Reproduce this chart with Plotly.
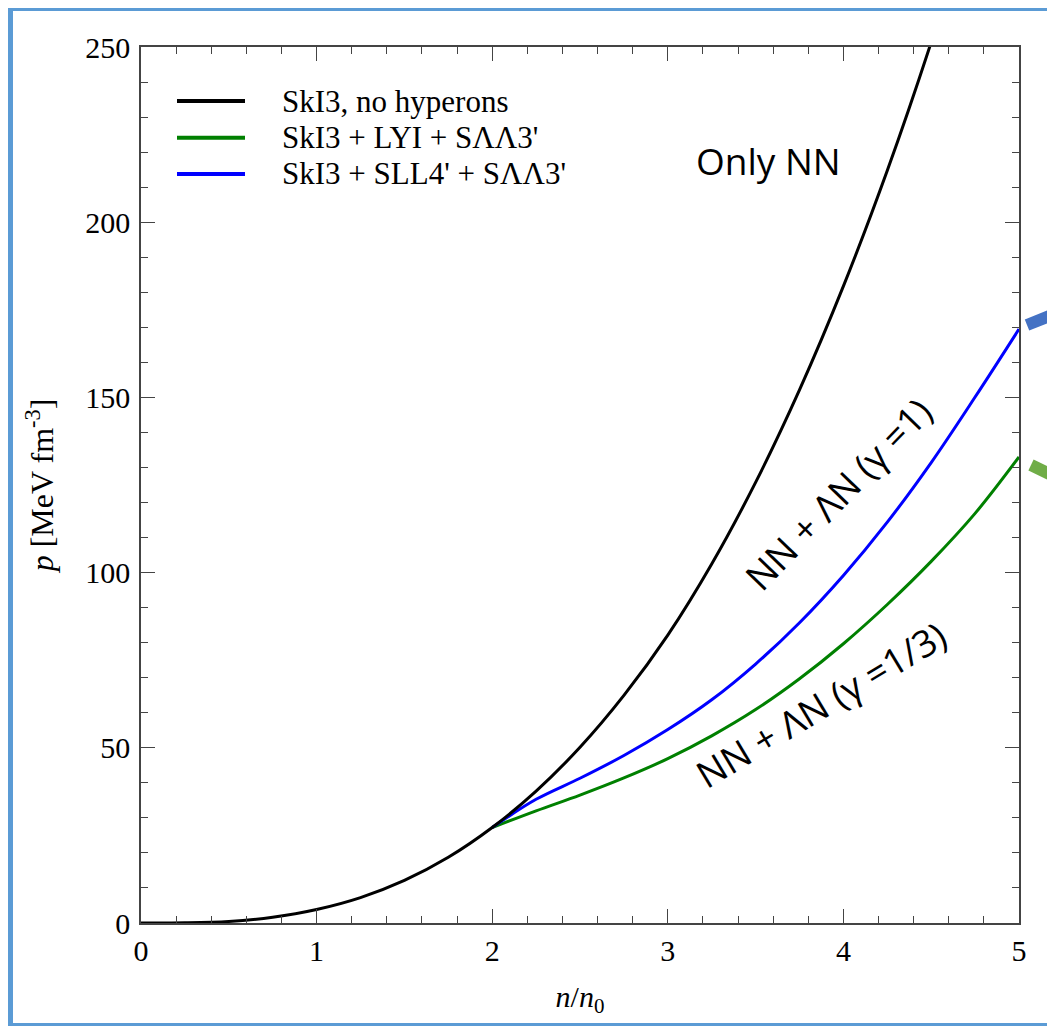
import plotly.graph_objects as go

# ---------------- data ----------------
n_nn = [0, 0.25, 0.5, 0.75, 1, 1.25, 1.5, 1.75, 2, 2.25, 2.5, 2.75, 3, 3.25, 3.5, 3.75, 4, 4.25, 4.5, 4.75]
p_nn = [0, 0.05, 0.45, 1.65, 3.85, 7.25, 12.15, 18.75, 27.25, 37.65, 50.15, 64.95, 82.15, 102.45, 125.75,
        152.15, 181.75, 214.75, 251.35, 291.75]

n_lyi = [2, 2.25, 2.5, 2.75, 3, 3.25, 3.5, 3.75, 4, 4.25, 4.5, 4.75, 5]
p_lyi = [27.25, 32.0, 36.5, 41.4, 46.9, 53.4, 60.9, 69.7, 79.7, 90.9, 103.2, 116.9, 133.0]

n_sll4 = [2, 2.25, 2.5, 2.75, 3, 3.25, 3.5, 3.75, 4, 4.25, 4.5, 4.75, 5]
p_sll4 = [27.25, 35.3, 41.3, 47.8, 55.2, 63.7, 73.9, 85.7, 99.2, 114.4, 131.4, 150.1, 169.5]

series_names = ["SkI3, no hyperons", "SkI3 + LYI + SΛΛ3'", "SkI3 + SLL4' + SΛΛ3'"]
series_colors = ["#000000", "#008000", "#0000ff"]

x_ticks = [0, 1, 2, 3, 4, 5]
y_ticks = [0, 50, 100, 150, 200, 250]

# ---------------- layout geometry ----------------
# the page body has an 8px margin, so the figure starts at (8, 8) in the window
OFF = 8
W, H = 1055 - OFF, 1026 - OFF
L, R, T, B = 133, 36, 39, 103
PW, PH = W - L - R, H - T - B


def px(xp):
    """window pixel x -> paper coordinate"""
    return (xp - OFF - L) / PW


def py(yp):
    """window pixel y -> paper coordinate"""
    return (H - B - (yp - OFF)) / PH


SERIF = "Liberation Serif"
SANS = "Open Sans"

fig = go.Figure()
fig.add_trace(go.Scatter(x=n_lyi, y=p_lyi, mode="lines", line=dict(color=series_colors[1], width=3, shape="spline"),
                         name=series_names[1], showlegend=False))
fig.add_trace(go.Scatter(x=n_sll4, y=p_sll4, mode="lines", line=dict(color=series_colors[2], width=3, shape="spline"),
                         name=series_names[2], showlegend=False))
fig.add_trace(go.Scatter(x=n_nn, y=p_nn, mode="lines", line=dict(color=series_colors[0], width=3, shape="spline"),
                         name=series_names[0], showlegend=False))

axis_common = dict(
    showgrid=False, zeroline=False, showline=True, linecolor="#444", linewidth=1.5,
    mirror="ticks", ticks="inside", ticklen=14, tickwidth=1.3, tickcolor="#444",
    tickfont=dict(family=SERIF, size=30, color="#000"),
)
fig.update_xaxes(range=[0, 5], tickvals=x_ticks, ticktext=[str(v) for v in x_ticks],
                 minor=dict(dtick=0.2, ticks="inside", ticklen=7, tickwidth=1.3, tickcolor="#444"),
                 ticklabelstandoff=0,
                 title=dict(text="<i>n</i>/<i>n</i><sub>0</sub>", font=dict(family=SERIF, size=30, color="#000"),
                            standoff=20),
                 **axis_common)
fig.update_yaxes(range=[0, 250], tickvals=y_ticks, ticktext=[str(v) for v in y_ticks],
                 minor=dict(dtick=10, ticks="inside", ticklen=7, tickwidth=1.3, tickcolor="#444"),
                 ticklabelstandoff=3,
                 title=dict(text="<i>p</i> [MeV fm<sup>-3</sup>]", font=dict(family=SERIF, size=32, color="#000"),
                            standoff=22),
                 **axis_common)

shapes = []
# frame around the picture
shapes.append(dict(type="rect", xref="paper", yref="paper", x0=px(10), x1=px(1080), y0=py(8), y1=py(1026),
                   line=dict(color="#5B9BD5", width=6), layer="above"))
# arrow stubs at right edge
shapes.append(dict(type="line", xref="paper", yref="paper", x0=px(1027), y0=py(325), x1=px(1062), y1=py(311),
                   line=dict(color="#4472C4", width=12)))
shapes.append(dict(type="line", xref="paper", yref="paper", x0=px(1031), y0=py(465), x1=px(1062), y1=py(480),
                   line=dict(color="#70AD47", width=12)))

annotations = []
# custom legend
leg_y = [101, 137.7, 174]
for name, col, yy in zip(series_names, series_colors, leg_y):
    shapes.append(dict(type="line", xref="paper", yref="paper", x0=px(177), x1=px(245), y0=py(yy), y1=py(yy),
                       line=dict(color=col, width=4)))
    annotations.append(dict(text=name, xref="paper", yref="paper", x=px(280), y=py(yy), xanchor="left",
                            yanchor="middle", showarrow=False, font=dict(family=SERIF, size=31, color="#000")))

annotations.append(dict(text="Only NN", xref="paper", yref="paper", x=px(768), y=py(160), showarrow=False,
                        xanchor="center", yanchor="middle", font=dict(family=SANS, size=37, color="#000")))
annotations.append(dict(text="NN + ΛN (γ =1)", xref="paper", yref="paper", x=px(838), y=py(494), showarrow=False,
                        xanchor="center", yanchor="middle", textangle=-46,
                        font=dict(family=SANS, size=37, color="#000")))
annotations.append(dict(text="NN + ΛN (γ =1/3)", xref="paper", yref="paper", x=px(820), y=py(704), showarrow=False,
                        xanchor="center", yanchor="middle", textangle=-31,
                        font=dict(family=SANS, size=37, color="#000")))

fig.update_layout(width=W, height=H, margin=dict(l=L, r=R, t=T, b=B, pad=0),
                  paper_bgcolor="white", plot_bgcolor="white",
                  shapes=shapes, annotations=annotations, showlegend=False)

fig.write_html("out.html")
